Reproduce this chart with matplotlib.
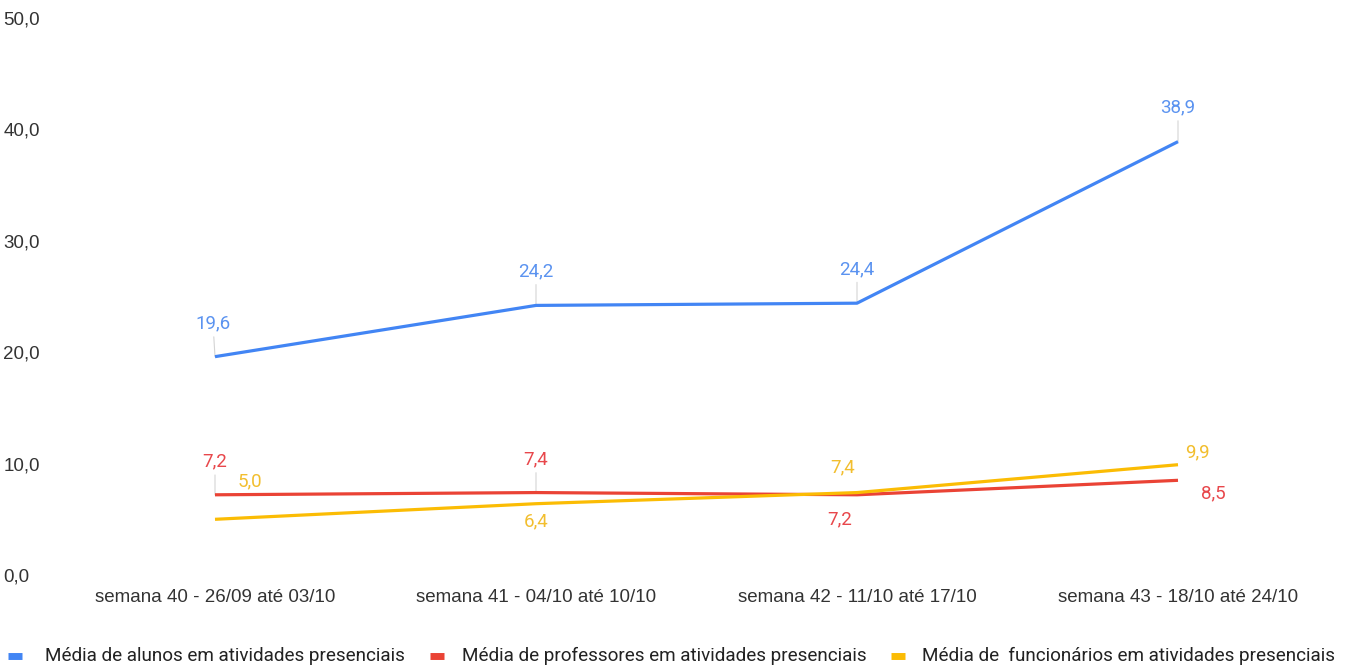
import matplotlib.pyplot as plt
from matplotlib.lines import Line2D

plt.rcParams['font.family'] = ['Roboto', 'DejaVu Sans']

categorias = [
    "semana 40 - 26/09 até 03/10",
    "semana 41 - 04/10 até 10/10",
    "semana 42 - 11/10 até 17/10",
    "semana 43 - 18/10 até 24/10",
]
alunos = [19.6, 24.2, 24.4, 38.9]
professores = [7.2, 7.4, 7.2, 8.5]
funcionarios = [5.0, 6.4, 7.4, 9.9]

nomes = [
    "Média de alunos em atividades presenciais",
    "Média de professores em atividades presenciais",
    "Média de  funcionários em atividades presenciais",
]
cores = ["#4285F4", "#EA4335", "#FBBC04"]
cores_rotulo = ["#5B93F0", "#E8474B", "#F2BE2E"]

# label offsets in pixels (dx, dy) and whether a leader line is drawn
offsets = [
    [(-2, 33, True), (0, 34, True), (0, 34, True), (0, 34, True)],
    [(0, 33, True), (0, 33, True), (-17, -25, False), (35, -13, False)],
    [(35, 38, False), (0, -18, False), (-14, 25, False), (19, 12, False)],
]

W, H = 1346, 669
fig = plt.figure(figsize=(W / 100, H / 100), dpi=100)
ax = fig.add_axes([62 / W, 94 / H, (1340 - 62) / W, 557 / H])

x = list(range(len(categorias)))
for serie, cor, cor_r, offs in zip([alunos, professores, funcionarios], cores, cores_rotulo, offsets):
    ax.plot(x, serie, color=cor, lw=2.3, solid_capstyle='butt', zorder=3)
    for xi, v, (dx, dy, leader) in zip(x, serie, offs):
        label = f"{v:.1f}".replace(".", ",")
        props = None
        if leader:
            props = dict(arrowstyle='-', color='#d4d4d4', lw=0.8, shrinkA=1, shrinkB=0)
        ax.annotate(label, (xi, v), xytext=(dx, dy), textcoords='offset pixels',
                    ha='center', va='center', color=cor_r, fontsize=13.5,
                    arrowprops=props, zorder=2)

ax.set_xlim(-(215 - 62) / 321, 3 + (1340 - 1178) / 321)
ax.set_ylim(0, 50)
ticks = [0, 10, 20, 30, 40, 50]
ax.set_yticks(ticks)
ax.set_yticklabels([f"{t:.1f}".replace(".", ",") for t in ticks])
ax.set_xticks(x)
ax.set_xticklabels(categorias)
ax.tick_params(axis='both', length=0, colors='#333333', labelsize=13.5)
ax.tick_params(axis='x', pad=10)
for lbl in ax.get_yticklabels() + ax.get_xticklabels():
    lbl.set_fontfamily(['Liberation Sans', 'DejaVu Sans'])
for lbl in ax.get_yticklabels():
    lbl.set_horizontalalignment('left')
    lbl.set_x(-(62 - 8) / (1340 - 62))
for s in ax.spines.values():
    s.set_visible(False)

# legend drawn by hand to keep the item positions
leg_y = 1 - 656 / H
marcador_x = [8, 430, 891]
texto_x = [45, 462, 922]
for cor, nome, mx, tx in zip(cores, nomes, marcador_x, texto_x):
    fig.add_artist(Line2D([mx / W, (mx + 14) / W], [leg_y, leg_y], color=cor, lw=5,
                          solid_capstyle='butt', transform=fig.transFigure))
    fig.text(tx / W, leg_y, nome, ha='left', va='center', fontsize=13.6,
             color='#222222')

fig.savefig("out.png", dpi=100)
